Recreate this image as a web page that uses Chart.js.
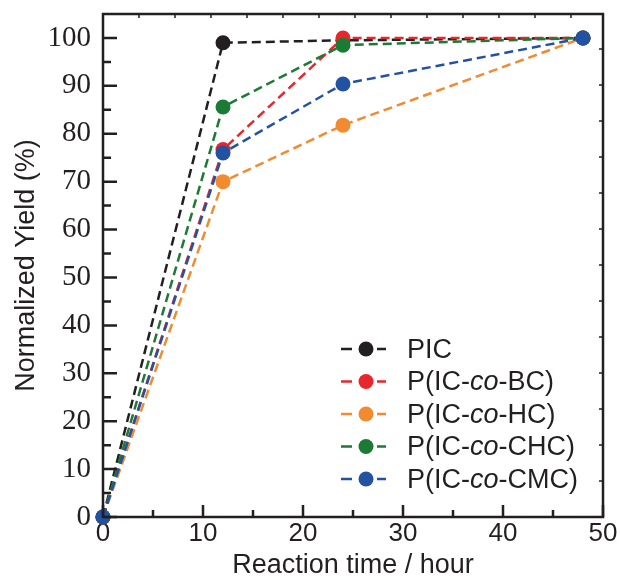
<!DOCTYPE html>
<html>
<head>
<meta charset="utf-8">
<title>Normalized yield vs reaction time</title>
<script src="https://cdn.jsdelivr.net/npm/chart.js@4.4.0/dist/chart.umd.min.js"></script>
<style>
  html, body { margin: 0; padding: 0; background: #fff; }
  #wrap { width: 620px; height: 576px; }
</style>
</head>
<body>
<div id="wrap"><canvas id="yieldChart" width="620" height="576"></canvas></div>
<script>
// reaction time (h) and normalized yield (%) for each polymer
var hours = [0, 12, 24, 48];
var seriesNames = ["PIC", "P(IC-co-BC)", "P(IC-co-HC)", "P(IC-co-CHC)", "P(IC-co-CMC)"];
var seriesColors = ["#231f20", "#e8262c", "#f28a30", "#1b7a33", "#2352a3"];
var yieldPIC = [0, 99, 99.5, 100];
var yieldBC = [0, 76.7, 100, 100];
var yieldHC = [0, 70, 81.8, 100];
var yieldCHC = [0, 85.6, 98.5, 100];
var yieldCMC = [0, 76, 90.4, 100];
var xTicks = [0, 10, 20, 30, 40, 50];
var yTicks = [0, 10, 20, 30, 40, 50, 60, 70, 80, 90, 100];

var ink = "#231f20";
var sansFont = "'Liberation Sans', Arial, sans-serif";
var serifFont = "'Liberation Serif', 'Times New Roman', serif";

Chart.defaults.font.family = sansFont;
Chart.defaults.color = ink;

var allYields = [yieldPIC, yieldBC, yieldHC, yieldCHC, yieldCMC];

function toPoints(values) {
  var pts = [];
  for (var i = 0; i < hours.length; i++) {
    pts.push({ x: hours[i], y: values[i] });
  }
  return pts;
}

var datasets = [];
for (var i = 0; i < seriesNames.length; i++) {
  datasets.push({
    label: seriesNames[i],
    data: toPoints(allYields[i]),
    borderColor: seriesColors[i],
    backgroundColor: seriesColors[i],
    borderWidth: 2.5,
    borderDash: [9, 5],
    pointRadius: 7.5,
    pointBorderWidth: 0,
    pointBackgroundColor: seriesColors[i],
    tension: 0,
    clip: false,
    order: seriesNames.length - i   // last series ends up on top
  });
}

// box frame with inward tick marks
var framePlugin = {
  id: "frame",
  afterDatasetsDraw: function (chart) {
    var ctx = chart.ctx, a = chart.chartArea;
    var xs = chart.scales.x, ys = chart.scales.y;
    ctx.save();
    ctx.strokeStyle = ink;
    ctx.lineWidth = 2.5;
    ctx.setLineDash([]);
    ctx.strokeRect(a.left, a.top, a.right - a.left, a.bottom - a.top);
    ctx.beginPath();
    for (var v = 0; v <= 50; v += 5) {
      var px = xs.getPixelForValue(v);
      var len = v % 10 === 0 ? 12 : 7;
      ctx.moveTo(px, a.bottom);
      ctx.lineTo(px, a.bottom - len);
    }
    for (var w = 0; w <= 100; w += 5) {
      var py = ys.getPixelForValue(w);
      var len2 = w % 10 === 0 ? 14 : 8;
      ctx.moveTo(a.left, py);
      ctx.lineTo(a.left + len2, py);
    }
    ctx.stroke();
    // fine ticks along top and right edges
    ctx.lineWidth = 1.5;
    ctx.beginPath();
    for (var tx = a.left + 36; tx < a.right - 4; tx += 36) {
      ctx.moveTo(tx, a.top);
      ctx.lineTo(tx, a.top + 4);
    }
    for (var ty = a.bottom - 36; ty > a.top + 4; ty -= 36) {
      ctx.moveTo(a.right, ty);
      ctx.lineTo(a.right - 4, ty);
    }
    ctx.stroke();
    ctx.restore();
  }
};

// legend in the lower right, with "co" set in italics
var legendPlugin = {
  id: "yieldLegend",
  afterDraw: function (chart) {
    var ctx = chart.ctx, a = chart.chartArea;
    var x0 = a.right - 262, y0 = a.bottom - 168, rowH = 32.5;
    chart.data.datasets.forEach(function (ds, i) {
      var y = y0 + i * rowH;
      ctx.save();
      ctx.strokeStyle = ds.borderColor;
      ctx.fillStyle = ds.borderColor;
      ctx.lineWidth = 2.5;
      ctx.beginPath();
      ctx.moveTo(x0, y); ctx.lineTo(x0 + 11, y);
      ctx.moveTo(x0 + 36, y); ctx.lineTo(x0 + 45, y);
      ctx.stroke();
      ctx.beginPath();
      ctx.arc(x0 + 25, y, 7.5, 0, Math.PI * 2);
      ctx.fill();

      ctx.fillStyle = ink;
      ctx.textBaseline = "alphabetic";
      var tx = x0 + 66, by = y + 8.5;
      var parts = ds.label.split("-co-");
      var segs = parts.length > 1
        ? [[parts[0] + "-", false], ["co", true], ["-" + parts[1], false]]
        : [[ds.label, false]];
      segs.forEach(function (s) {
        ctx.font = (s[1] ? "italic " : "") + "27px " + sansFont;
        ctx.fillText(s[0], tx, by);
        tx += ctx.measureText(s[0]).width;
      });
      ctx.restore();
    });
  }
};

new Chart(document.getElementById("yieldChart"), {
  type: "line",
  data: { datasets: datasets },
  plugins: [framePlugin, legendPlugin],
  options: {
    responsive: false,
    animation: false,
    devicePixelRatio: 1,
    layout: { padding: { top: 14, right: 17, left: 0, bottom: 0 } },
    plugins: { legend: { display: false }, tooltip: { enabled: false } },
    scales: {
      x: {
        type: "linear",
        min: 0,
        max: 50,
        afterBuildTicks: function (scale) {
          scale.ticks = xTicks.map(function (v) { return { value: v }; });
        },
        afterFit: function (scale) {
          scale.height = 59;
          scale.paddingLeft = 0;
          scale.paddingRight = 0;
        },
        grid: { display: false, drawTicks: false },
        border: { display: false },
        ticks: { padding: 1, font: { size: 26 }, color: ink, maxRotation: 0 },
        title: {
          display: true,
          text: "Reaction time / hour",
          font: { size: 27, lineHeight: 1 },
          color: ink,
          padding: { top: -3, bottom: -3 }
        }
      },
      y: {
        type: "linear",
        min: 0,
        max: 105,
        afterBuildTicks: function (scale) {
          scale.ticks = yTicks.map(function (v) { return { value: v }; });
        },
        afterFit: function (scale) {
          scale.width = 103;
          scale.paddingTop = 0;
          scale.paddingBottom = 0;
        },
        grid: { display: false, drawTicks: false },
        border: { display: false },
        ticks: { padding: 12, font: { size: 29, family: serifFont }, color: ink },
        title: {
          display: true,
          text: "Normalized Yield (%)",
          font: { size: 27, lineHeight: 1.2 },
          color: ink,
          padding: { top: 10, bottom: 0 }
        }
      }
    }
  }
});
</script>
</body>
</html>
